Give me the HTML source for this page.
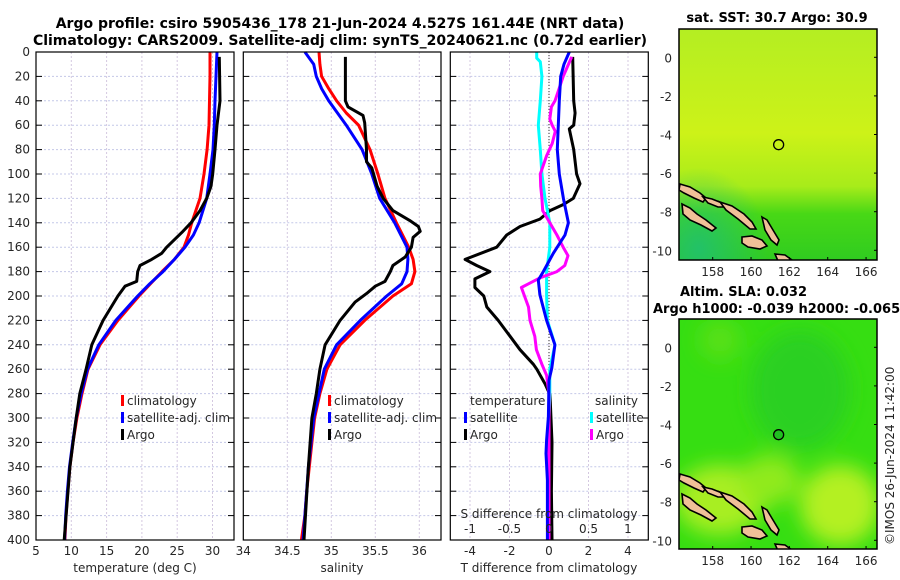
<!DOCTYPE html>
<html><head><meta charset="utf-8"><style>
html,body{margin:0;padding:0;background:#fff;}
svg{display:block;font-family:"DejaVu Sans","Liberation Sans",sans-serif;}
.t{font-size:12px;fill:#262626;}
.b{font-size:13px;font-weight:bold;fill:#000;}
.bt{font-size:14px;font-weight:bold;fill:#000;}
</style></head><body>
<svg id="c" width="900" height="580" viewBox="0 0 900 580" xmlns="http://www.w3.org/2000/svg">
<defs>
<linearGradient id="g1" x1="0" y1="0" x2="0" y2="1">
<stop offset="0" stop-color="#b4ee22"/><stop offset="0.45" stop-color="#cdf218"/><stop offset="0.68" stop-color="#a8ec1a"/><stop offset="0.8" stop-color="#48d816"/><stop offset="1" stop-color="#30cc20"/></linearGradient>
<radialGradient id="g1t" cx="0.1" cy="0.95" r="0.35"><stop offset="0" stop-color="#20c070" stop-opacity="0.9"/><stop offset="1" stop-color="#20c070" stop-opacity="0"/></radialGradient>
<filter id="bl"><feGaussianBlur stdDeviation="10"/></filter>
<clipPath id="cm1"><rect x="679" y="29" width="198" height="231"/></clipPath>
<clipPath id="cm2"><rect x="679" y="319" width="198" height="230"/></clipPath>
</defs>
<g id="titles">
<text class="bt" x="340" y="28" text-anchor="middle">Argo profile: csiro 5905436_178 21-Jun-2024 4.527S 161.44E (NRT data)</text>
<text class="bt" x="340" y="45" text-anchor="middle">Climatology: CARS2009. Satellite-adj clim: synTS_20240621.nc (0.72d earlier)</text>
</g>
<g id="plots"></g>
<g id="maps">
<text class="b" x="777" y="22" text-anchor="middle">sat. SST: 30.7 Argo: 30.9</text>
<text class="b" x="680" y="296">Altim. SLA: 0.032</text>
<text class="b" x="653" y="313">Argo h1000: -0.039 h2000: -0.065</text>
<g clip-path="url(#cm1)">
<rect x="679" y="29" width="198" height="231" fill="url(#g1)"/>
<rect x="679" y="29" width="198" height="231" fill="url(#g1t)"/>
<g id="isl1"></g>
</g>
<g clip-path="url(#cm2)">
<rect x="679" y="319" width="198" height="230" fill="#36de12"/>
<g filter="url(#bl)">
<ellipse cx="800" cy="390" rx="50" ry="60" fill="#2ad020"/>
<ellipse cx="720" cy="500" rx="45" ry="35" fill="#a8ee20"/>
<ellipse cx="770" cy="480" rx="30" ry="25" fill="#90ea1c"/>
<ellipse cx="840" cy="505" rx="40" ry="40" fill="#b4f024"/>
<ellipse cx="720" cy="340" rx="20" ry="20" fill="#58e018"/>
</g>
<g id="isl2" transform="translate(0,290)"></g>
</g>
<rect x="679" y="29" width="198" height="231" fill="none" stroke="#000" stroke-width="1.5"/>
<rect x="679" y="319" width="198" height="230" fill="none" stroke="#000" stroke-width="1.5"/>
<g id="mapaxes"></g>
<text class="t" font-size="13" transform="translate(894,545) rotate(-90)">©IMOS 26-Jun-2024 11:42:00</text>
</g>
</svg>
<script>
// ---- data ----
const depthTicks = [0,20,40,60,80,100,120,140,160,180,200,220,240,260,280,300,320,340,360,380,400];
const tempTicks = [5,10,15,20,25,30];
const salTicks = [34,34.5,35,35.5,36];
const salTickLabels = ["34","34.5","35","35.5","36"];
const tdiffTicks = [-4,-2,0,2,4];
const sdiffTicks = [-1,-0.5,0,0.5,1];
const sdiffTickLabels = ["-1","-0.5","0","0.5","1"];

const tDepths = [0,20,40,60,80,100,120,140,150,160,170,180,190,200,220,240,260,280,300,320,340,360,380,400];
const tClim = [29.65,29.65,29.58,29.5,29.23,28.8,28.23,27.05,26.6,25.96,24.6,22.85,21.2,19.59,16.6,14.07,12.37,11.52,10.8,10.24,9.8,9.5,9.25,9.1];
const tSat = [30.64,30.5,30.35,30.26,30.07,29.65,29.18,28.1,27.3,26.1,24.6,22.99,21.1,19.4,16.3,13.9,12.3,11.4,10.7,10.2,9.75,9.45,9.2,9.05];
const tArgoDepths = [4,40,60,80,100,110,120,130,140,148,152,160,165,170,175,180,188,192,200,220,240,260,280,300,340,400];
const tArgo = [30.96,31.06,30.64,30.35,30.03,29.79,29.18,28.23,26.95,25.64,24.93,23.51,22.8,21.39,19.73,19.41,19.26,17.6,16.6,14.5,12.9,12.1,11.2,10.7,9.8,9.0];

const sDepths = [0,10,20,30,40,50,60,80,100,120,140,160,170,180,190,200,220,240,260,280,300,320,340,360,380,400];
const sClim = [34.86,34.87,34.89,34.97,35.06,35.17,35.31,35.44,35.53,35.61,35.74,35.88,35.93,35.95,35.91,35.70,35.38,35.10,34.95,34.87,34.81,34.78,34.75,34.72,34.70,34.66];
const sSat = [34.70,34.80,34.83,34.89,34.97,35.07,35.17,35.35,35.46,35.55,35.72,35.86,35.87,35.86,35.80,35.63,35.33,35.06,34.92,34.86,34.80,34.77,34.74,34.72,34.70,34.68];
const sArgoDepths = [4,40,45,52,58,80,90,95,110,120,130,138,143,147,152,160,168,175,180,188,192,198,205,220,240,260,280,300,340,400];
const sArgo = [35.16,35.16,35.19,35.36,35.38,35.40,35.40,35.46,35.52,35.59,35.70,35.89,35.99,36.01,35.93,35.91,35.84,35.70,35.67,35.61,35.50,35.40,35.27,35.10,34.93,34.87,34.83,34.78,34.74,34.69];

const tdSatDepths = [0,10,20,40,60,80,100,120,140,150,165,180,187,199,220,240,259,269,299,318,329,351,380,400];
const tdSat = [1.03,0.76,0.59,0.52,0.47,0.42,0.52,0.73,0.98,0.81,0.22,-0.29,-0.54,-0.46,-0.12,0.30,0.14,0.0,-0.03,-0.12,-0.15,-0.08,-0.08,-0.08];
const tdArgoDepths = [4,40,50,60,63,80,100,108,120,125,130,137,143,150,160,170,175,180,186,193,200,209,220,233,244,256,260,272,281,320,360,400];
const tdArgo = [1.2,1.25,1.32,1.25,1.03,1.25,1.40,1.57,1.23,0.73,0.05,-0.46,-1.47,-2.14,-2.65,-4.25,-3.66,-2.99,-3.75,-3.75,-3.3,-3.15,-2.57,-1.97,-1.47,-0.79,-0.62,-0.20,0.05,0.15,0.12,0.15];
const sdSatDepths = [0,5,8,20,40,60,80,100,120,140,160,180,200,220,240,260,280,300,400];
const sdSat = [-0.156,-0.156,-0.11,-0.09,-0.11,-0.135,-0.11,-0.09,-0.05,0.01,0.01,-0.03,-0.03,-0.02,0.076,0.01,0.01,0.0,0.0];
const sdArgoDepths = [4,20,40,45,55,60,65,75,85,100,110,120,130,140,150,160,167,175,180,185,190,193,209,220,233,244,256,265,280,400];
const sdArgo = [0.287,0.18,0.076,0.03,0.01,0.04,0.08,0.04,-0.03,-0.11,-0.105,-0.09,-0.08,0.01,0.10,0.18,0.24,0.20,0.10,-0.11,-0.26,-0.35,-0.26,-0.24,-0.18,-0.16,-0.09,-0.03,0,0];

const lonTicks = [158,160,162,164,166];
const latTicks = [0,-2,-4,-6,-8,-10];
const argoLon = 161.44, argoLat = -4.527;

// ---- scales ----
const NS="http://www.w3.org/2000/svg";
const yD = d => 52 + d*1.22;
const xT = v => 36 + (v-5)*7.06;
const xS = v => 243.3 + (v-34)*88;
const xTD = v => 549 + v*19.75;
const xSD = v => 549 + v*79;
const mX = lon => 712.7 + (lon-158)*19.17;
const mY1 = lat => 57.3 - lat*19.3;
const mY2 = lat => 347.3 - lat*19.3;

function el(tag, attrs, parent, txt){
  const e=document.createElementNS(NS,tag);
  for(const k in attrs) e.setAttribute(k,attrs[k]);
  if(txt!==undefined) e.textContent=txt;
  parent.appendChild(e); return e;
}
const plots=document.getElementById('plots');

const panels=[
  {x0:36,x1:234,name:'temperature-panel'},
  {x0:243.3,x1:441,name:'salinity-panel'},
  {x0:450.3,x1:648.3,name:'difference-panel'}
];
panels.forEach((p,i)=>{
  const g=el('g',{},plots);
  
  
  el('rect',{x:p.x0,y:52,width:p.x1-p.x0,height:488,fill:'#fff'},g);
  depthTicks.forEach(d=>{
    const l=el('line',{x1:p.x0,x2:p.x1,y1:yD(d),y2:yD(d),stroke:'#c4c8e8','stroke-dasharray':'2,2','stroke-width':1},g);
    
    
    el('line',{x1:p.x0,x2:p.x0+6,y1:yD(d),y2:yD(d),stroke:'#000'},g);
    el('line',{x1:p.x1-6,x2:p.x1,y1:yD(d),y2:yD(d),stroke:'#000'},g);
  });
  p.g=g;
});
function vgrid(p, ticks, sc, labels, y, name){
  ticks.forEach((v,k)=>{
    const x=sc(v);
    if(x>p.x0+1 && x<p.x1-1){
      const l=el('line',{x1:x,x2:x,y1:52,y2:540,stroke:'#d4c8e0','stroke-dasharray':'2,2'},p.g);
      
      
    }
    const t=el('text',{class:'t',x:x,y:y,'text-anchor':'middle'},p.g,labels?labels[k]:String(v));
    
    
  });
}
vgrid(panels[0],tempTicks,xT,null,555,'temperature-tick-label');
vgrid(panels[1],salTicks,xS,salTickLabels,555,'salinity-tick-label');
vgrid(panels[2],tdiffTicks,xTD,null,555,'tdiff-tick-label');
const zl=el('line',{x1:549,x2:549,y1:52,y2:540,stroke:'#555','stroke-dasharray':'1,2','stroke-width':1.2},panels[2].g);


depthTicks.forEach(d=>{
  const t=el('text',{class:'t',x:30,y:yD(d)+4,'text-anchor':'end'},plots,String(d));
  
  
});
function series(g, depths, vals, sc, color, name){
  const pts=depths.map((d,i)=>sc(vals[i]).toFixed(1)+','+yD(d).toFixed(1)).join(' ');
  const l=el('polyline',{points:pts,fill:'none',stroke:color,'stroke-width':3,'stroke-linejoin':'round'},g);
  
  
}
series(panels[0].g,tDepths,tClim,xT,'#ff0000','temp-climatology-line');
series(panels[0].g,tDepths,tSat,xT,'#0000ff','temp-satellite-line');
series(panels[0].g,tArgoDepths,tArgo,xT,'#000','temp-argo-line');
series(panels[1].g,sDepths,sClim,xS,'#ff0000','sal-climatology-line');
series(panels[1].g,sDepths,sSat,xS,'#0000ff','sal-satellite-line');
series(panels[1].g,sArgoDepths,sArgo,xS,'#000','sal-argo-line');
series(panels[2].g,tdArgoDepths,tdArgo,xTD,'#000','tdiff-argo-line');
series(panels[2].g,sdSatDepths,sdSat,xSD,'#00ffff','sdiff-satellite-line');
series(panels[2].g,sdArgoDepths,sdArgo,xSD,'#ff00ff','sdiff-argo-line');
series(panels[2].g,tdSatDepths,tdSat,xTD,'#0000ff','tdiff-satellite-line');
sdiffTicks.forEach((v,k)=>{
  const t=el('text',{class:'t',x:xSD(v),y:533,'text-anchor':'middle'},panels[2].g,sdiffTickLabels[k]);
  
  
});
panels.forEach(p=>{
  const f=el('rect',{x:p.x0,y:52,width:p.x1-p.x0,height:488,fill:'none',stroke:'#000','stroke-width':1.2},p.g);
  
  
});
function legItem(g,x,y,color,label){
  const gg=el('g',{},g);
  
  
  el('rect',{x:x,y:y-10,width:3,height:11,fill:color},gg);
  el('text',{class:'t',x:x+6,y:y,'font-size':'13'},gg,label);
}
legItem(panels[0].g,121,405,'#ff0000','climatology');
legItem(panels[0].g,121,422,'#0000ff','satellite-adj. clim');
legItem(panels[0].g,121,439,'#000','Argo');
legItem(panels[1].g,328,405,'#ff0000','climatology');
legItem(panels[1].g,328,422,'#0000ff','satellite-adj. clim');
legItem(panels[1].g,328,439,'#000','Argo');
const lt=el('text',{class:'t',x:470,y:405,'font-size':'13'},panels[2].g,'temperature');


const ls=el('text',{class:'t',x:595,y:405,'font-size':'13'},panels[2].g,'salinity');


legItem(panels[2].g,464,422,'#0000ff','satellite');
legItem(panels[2].g,464,439,'#000','Argo');
legItem(panels[2].g,590,422,'#00ffff','satellite');
legItem(panels[2].g,590,439,'#ff00ff','Argo');
[[135,'temperature (deg C)','temperature-axis-title'],[342,'salinity','salinity-axis-title'],[549,'T difference from climatology','tdiff-axis-title']].forEach(a=>{
  const t=el('text',{class:'t','font-size':'13',x:a[0],y:572,'text-anchor':'middle'},plots,a[1]);
  
  
});
const sdt=el('text',{class:'t','font-size':'13',x:549,y:518,'text-anchor':'middle'},plots,'S difference from climatology');



// ---- maps ----
const islands=[
  [[680,184],[690,187],[700,193],[706,198],[703,202],[694,198],[684,193],[679,190]],
  [[703,197],[712,199],[722,203],[727,207],[718,207],[708,203]],
  [[720,202],[732,206],[744,214],[752,222],[756,229],[750,229],[738,219],[726,210]],
  [[682,204],[690,208],[697,214],[706,220],[716,228],[712,231],[701,225],[690,220],[683,214]],
  [[742,237],[752,236],[762,240],[767,246],[760,249],[748,247],[742,243]],
  [[762,217],[767,220],[773,230],[779,240],[777,245],[771,240],[765,230]],
  [[775,254],[785,255],[792,260],[778,261]]
];
function drawIslands(id){
  const g=document.getElementById(id);
  islands.forEach(pts=>{
    const p=el('polygon',{points:pts.map(q=>q.join(',')).join(' '),fill:'#f0c098',stroke:'#000','stroke-width':1.6},g);
    
    
  });
}
drawIslands('isl1'); drawIslands('isl2');
const ma=document.getElementById('mapaxes');
[[mY1,260],[mY2,549]].forEach((m,j)=>{
  const ys=m[0], yb=m[1];
  lonTicks.forEach(v=>{
    const t=el('text',{class:'t','font-size':'13',x:mX(v),y:yb+16,'text-anchor':'middle'},ma,String(v));
    
    
    el('line',{x1:mX(v),x2:mX(v),y1:yb,y2:yb-3,stroke:'#000'},ma);
  });
  latTicks.forEach(v=>{
    const t=el('text',{class:'t','font-size':'13',x:672,y:ys(v)+5,'text-anchor':'end'},ma,String(v));
    
    
    el('line',{x1:877,x2:874,y1:ys(v),y2:ys(v),stroke:'#000'},ma);
  });
  const c=el('circle',{cx:mX(argoLon),cy:ys(argoLat),r:5,fill:j?'#20c020':'none',stroke:'#000','stroke-width':1.3},ma);
  
  
});
</script>
</body></html>
